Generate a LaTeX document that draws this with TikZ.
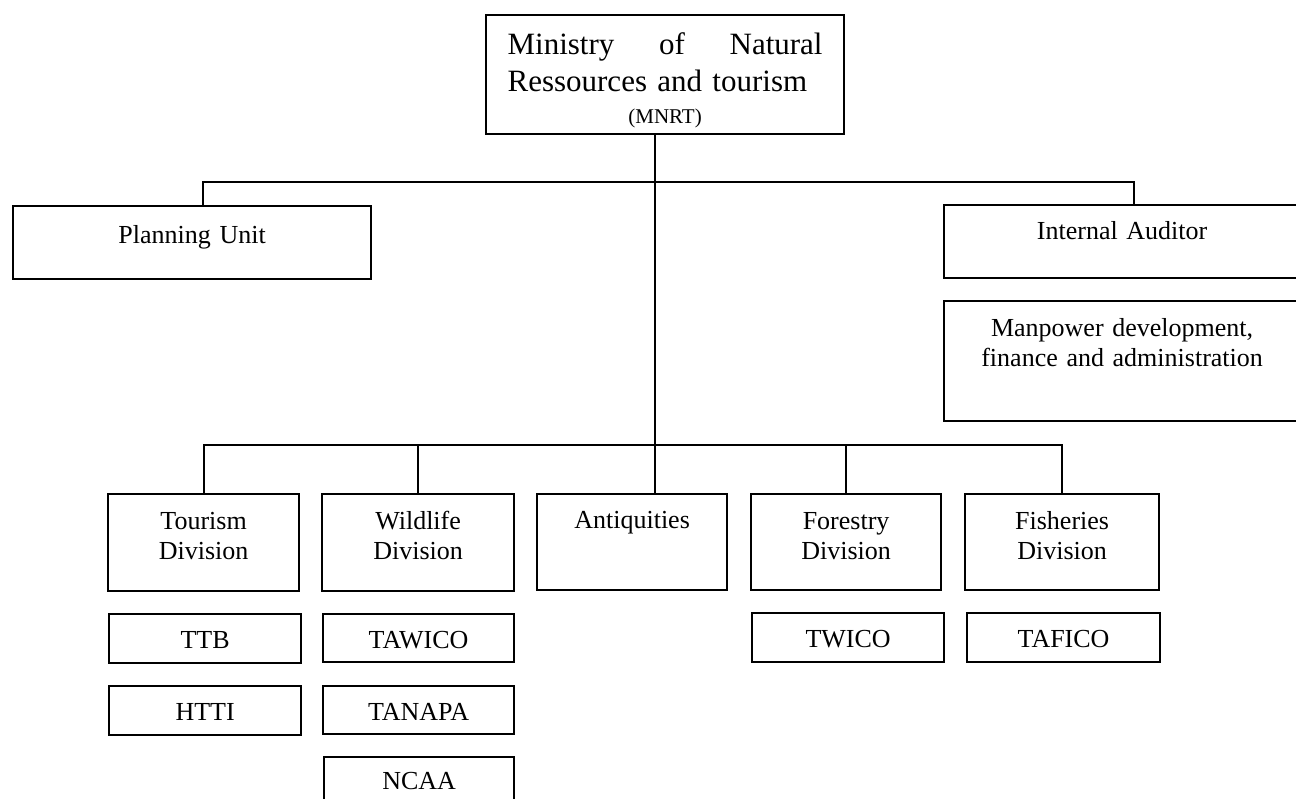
\documentclass[tikz,border=0pt]{standalone}
\usepackage{fontspec}
\setmainfont{Liberation Serif}
\begin{document}
\begin{tikzpicture}[x=1pt,y=-1pt,
  box/.style={draw, line width=2.2pt, inner sep=0pt, anchor=north west, align=center,
    font=\fontsize{26}{30}\selectfont},
  conn/.style={line width=2.2pt}]
\useasboundingbox (0,0) rectangle (1296,799);
% top
\node[box, align=left, text width=315pt, inner xsep=21.5pt, text height=39pt, text depth=80pt,
  font=\fontsize{31}{37}\selectfont] (top) at (485,14)
  {Ministry\hfill of\hfill Natural\\Ressources and tourism\\[-5pt]\makebox[315pt][c]{\fontsize{21}{25}\selectfont(MNRT)}};
% staff units
\node[box, text width=358pt, text height=37pt, text depth=36pt] (plan) at (12,205) {Planning Unit};
\node[box, text width=356pt, text height=34pt, text depth=39pt] (ia) at (943,204) {Internal Auditor};
\node[box, text width=356pt, text height=35pt, text depth=85pt] (man) at (943,300) {Manpower development,\\finance and administration};
% divisions
\node[box, text width=191pt, text height=35pt, text depth=62pt] (tour) at (107,493) {Tourism\\Division};
\node[box, text width=192pt, text height=35pt, text depth=62pt] (wild) at (321,493) {Wildlife\\Division};
\node[box, text width=190pt, text height=34pt, text depth=62pt] (antiq) at (536,493) {Antiquities};
\node[box, text width=190pt, text height=35pt, text depth=61pt] (forest) at (750,493) {Forestry\\Division};
\node[box, text width=194pt, text height=35pt, text depth=61pt] (fish) at (964,493) {Fisheries\\Division};
% agencies
\node[box, text width=192pt, text height=34pt, text depth=15pt] (ttb) at (108,613) {TTB};
\node[box, text width=192pt, text height=34pt, text depth=15pt] (htti) at (108,685) {HTTI};
\node[box, text width=191pt, text height=34pt, text depth=14pt] (tawico) at (322,613) {TAWICO};
\node[box, text width=191pt, text height=34pt, text depth=14pt] (tanapa) at (322,685) {TANAPA};
\node[box, text width=190pt, text height=32pt, text depth=20pt] (ncaa) at (323,756) {NCAA};
\node[box, text width=192pt, text height=34pt, text depth=15pt] (twico) at (751,612) {TWICO};
\node[box, text width=193pt, text height=34pt, text depth=15pt] (tafico) at (966,612) {TAFICO};
% connectors
\coordinate (trunk) at (655,0);
\coordinate (lb) at (203,182);
\coordinate (rb) at (1134,182);
\coordinate (dbar) at (0,445);
\draw[conn] (top.south -| trunk) -- (trunk |- antiq.north);
\draw[conn] (lb |- plan.north) -- (lb) -- (rb) -- (rb |- ia.north);
\draw[conn] (tour.north) -- (tour.north |- dbar) -- (fish.north |- dbar) -- (fish.north);
\draw[conn] (wild.north) -- (wild.north |- dbar);
\draw[conn] (forest.north) -- (forest.north |- dbar);
\end{tikzpicture}
\end{document}
